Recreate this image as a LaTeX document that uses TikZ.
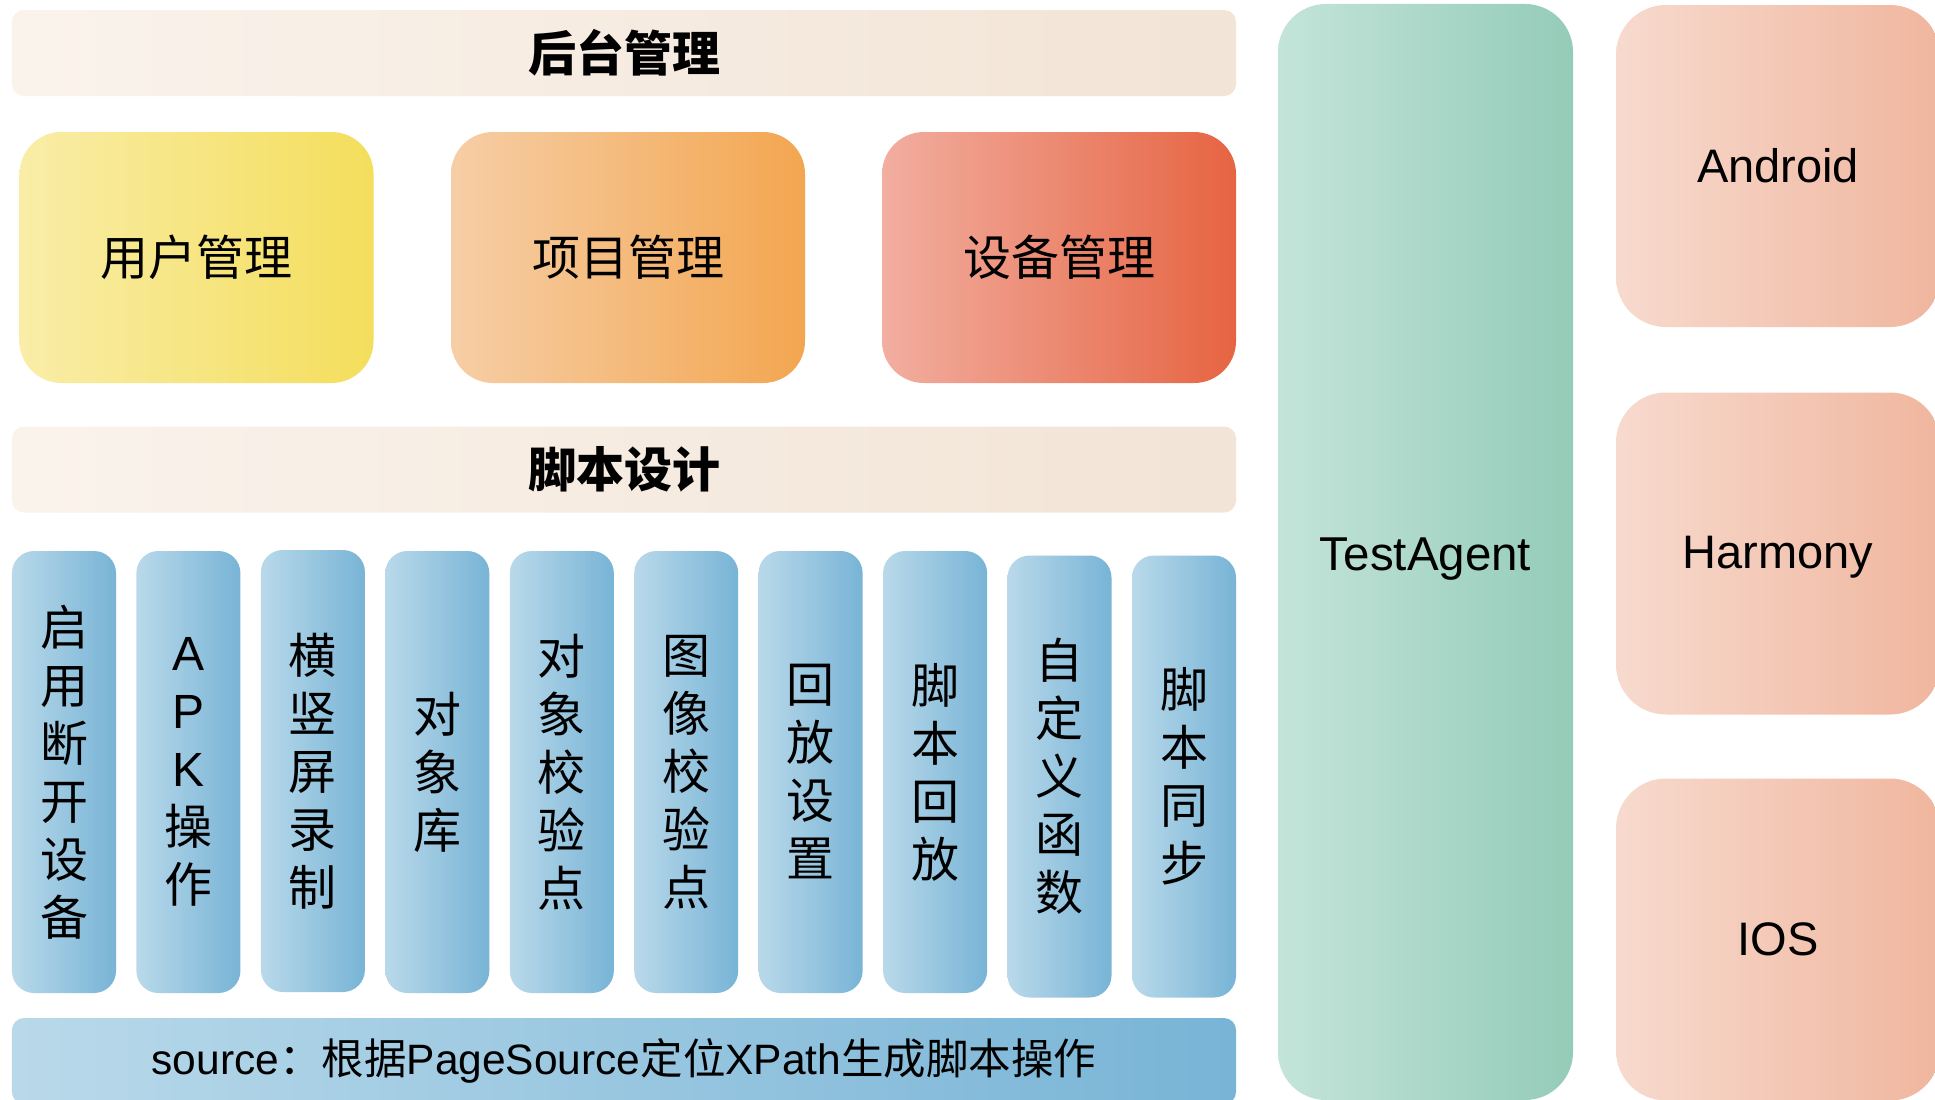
\documentclass[tikz,border=0pt]{standalone}
\usepackage{fontspec}
\setmainfont{Liberation Sans}
\newfontfamily\cjk{Noto Sans CJK SC}
\newcommand\fsz[2]{\fontsize{#1bp}{#2bp}\selectfont}
\definecolor{barL}{HTML}{FAF3EC}
\definecolor{barR}{HTML}{F2E4D6}
\definecolor{yelL}{HTML}{F9EDA8}
\definecolor{yelR}{HTML}{F4DE5C}
\definecolor{orgL}{HTML}{F6CEA6}
\definecolor{orgR}{HTML}{F3A650}
\definecolor{redL}{HTML}{F2AEA0}
\definecolor{redR}{HTML}{E66442}
\definecolor{bluL}{HTML}{B9D9EA}
\definecolor{bluR}{HTML}{78B4D6}
\definecolor{grnL}{HTML}{C4E4DA}
\definecolor{grnR}{HTML}{94CCB8}
\definecolor{pnkL}{HTML}{F7DACE}
\definecolor{pnkR}{HTML}{F0B69E}
\begin{document}
\begin{tikzpicture}[x=1bp,y=-1bp,
  box/.style={inner sep=0pt, draw=none, align=center, text=black},
  bar/.style={box, rounded corners=12bp, left color=barL, right color=barR,
    minimum width=1224bp, minimum height=86bp, font=\cjk\bfseries\fsz{48}{58}},
  midbox/.style={box, rounded corners=42bp, minimum width=354bp, minimum height=251bp,
    font=\cjk\fsz{48}{58}},
  colbox/.style={box, rounded corners=22bp, left color=bluL, right color=bluR,
    minimum width=104bp, minimum height=442bp, font=\cjk\fsz{48}{58}},
  osbox/.style={box, rounded corners=50bp, left color=pnkL, right color=pnkR,
    minimum width=324bp, minimum height=322bp, font=\fsz{47}{56}}
]
\useasboundingbox (0,0) rectangle (1935,1099);
\clip (0,0) rectangle (1935,1099);
\fill[white] (0,0) rectangle (1935,1099);

\node[bar] (top) at (624,53) {后台管理};
\node[midbox, left color=yelL, right color=yelR] (user) at (196.5,257.5) {用户管理};
\node[midbox, left color=orgL, right color=orgR] (proj) at (628,257.5) {项目管理};
\node[midbox, left color=redL, right color=redR] (dev) at (1059,257.5) {设备管理};
\node[bar] (script) at (624,469.5) {脚本设计};

\node[colbox] (c1) at (64,772) {启\\用\\断\\开\\设\\备};
\node[colbox] (c2) at (188.4,772) {{\rmfamily A}\\{\rmfamily P}\\{\rmfamily K}\\操\\作};
\node[colbox] (c3) at (312.9,771) {横\\竖\\屏\\录\\制};
\node[colbox] (c4) at (437.3,772) {对\\象\\库};
\node[colbox] (c5) at (561.8,772) {对\\象\\校\\验\\点};
\node[colbox] (c6) at (686.2,772) {图\\像\\校\\验\\点};
\node[colbox] (c7) at (810.6,772) {回\\放\\设\\置};
\node[colbox] (c8) at (935.1,772) {脚\\本\\回\\放};
\node[colbox] (c9) at (1059.5,776.5) {自\\定\\义\\函\\数};
\node[colbox] (c10) at (1184,776.5) {脚\\本\\同\\步};

\node[box, rounded corners=12bp, left color=bluL, right color=bluR,
  minimum width=1224bp, minimum height=86bp, font=\fsz{42.5}{50}] (src) at (624,1061)
  {source{\cjk ：根据}PageSource{\cjk 定位}XPath{\cjk 生成脚本操作}};

\node[box, rounded corners=48bp, left color=grnL, right color=grnR,
  minimum width=295bp, minimum height=1096bp, font=\fsz{47.5}{56}] (agent) at (1425.5,552)
  {\raisebox{-7bp}[\height][\depth]{TestAgent}};

\node[osbox] (android) at (1778,166) {Android};
\node[osbox] (harmony) at (1778,553.5) {\raisebox{-4bp}[\height][\depth]{Harmony}};
\node[osbox] (ios) at (1778,939.5) {IOS};
\end{tikzpicture}
\end{document}
